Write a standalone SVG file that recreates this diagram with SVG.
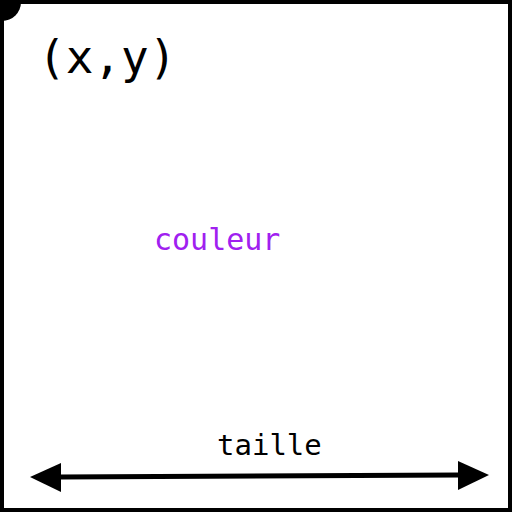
<svg xmlns="http://www.w3.org/2000/svg" width="512" height="512" viewBox="0 0 512 512">
<defs>
<style>
.t{font-family:"DejaVu Sans Mono","Liberation Mono",monospace;}
</style>
</defs>
<rect x="0" y="0" width="512" height="512" fill="#fff"/>
<g id="frame">
<rect x="0" y="0" width="512" height="512" fill="none" stroke="#000" stroke-width="8"/>
<circle cx="2" cy="2" r="19" fill="#000"/>
</g>
<g id="position"><text class="t" x="38" y="73" font-size="46" fill="#000">(x,y)</text></g>
<g id="color"><text class="t" x="154" y="250" font-size="30" fill="#a020f0">couleur</text></g>
<g id="size"><text class="t" x="217" y="455" font-size="29" fill="#000">taille</text></g>
<g id="connectors">
<line x1="60" y1="477" x2="459" y2="475" stroke="#000" stroke-width="5"/>
<polygon points="30,477 61,463 61,492" fill="#000"/>
<polygon points="489,475 458,461 458,490" fill="#000"/>
</g>
</svg>
